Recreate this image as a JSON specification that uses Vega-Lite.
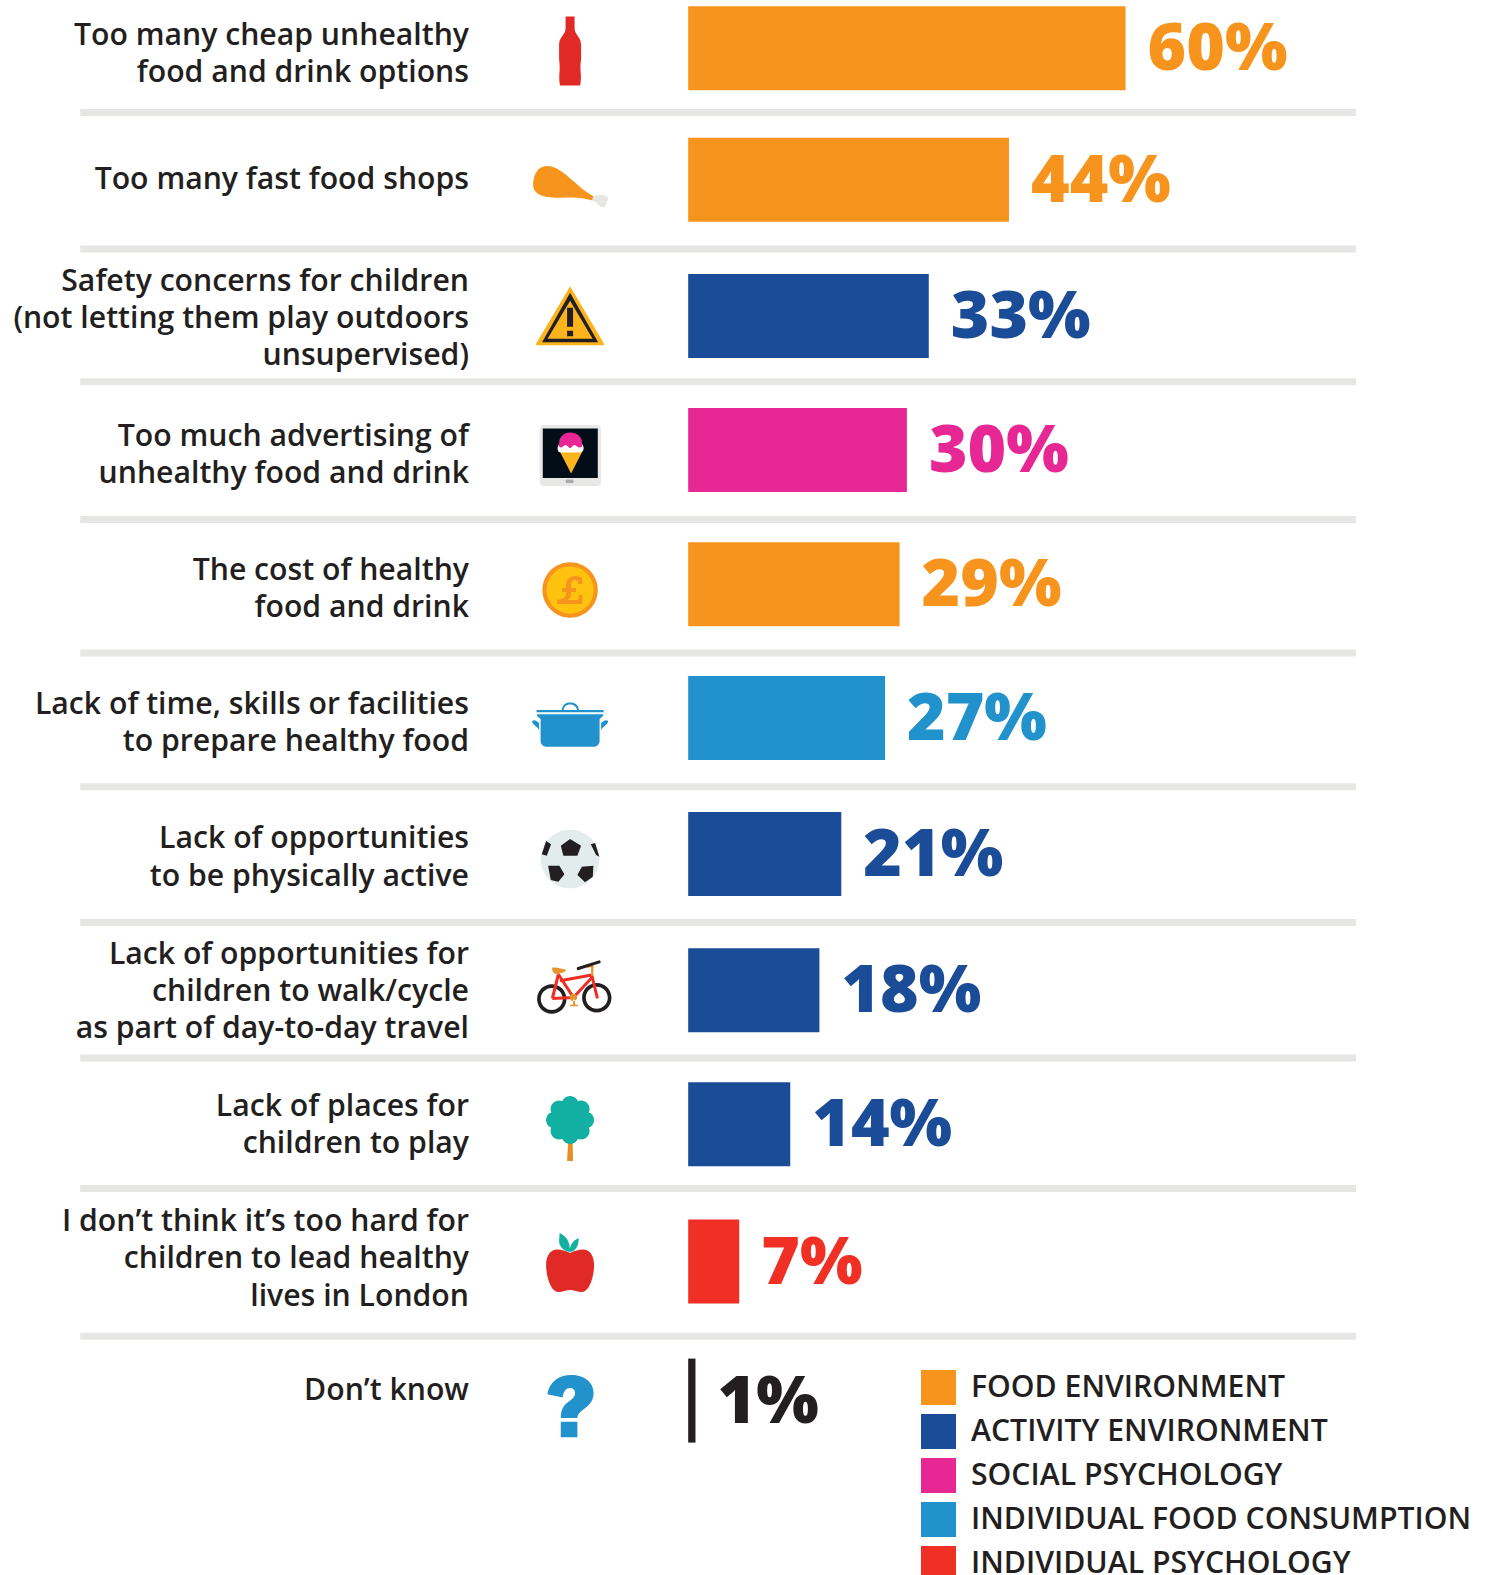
{
"$schema":"https://vega.github.io/schema/vega-lite/v6.json",
"width":1485,"height":1575,"padding":0,"autosize":{"type":"none"},"background":"white",
"config":{"view":{"stroke":null}},
"datasets":{
"rows":[
{"rank":1,"label":"Too many cheap unhealthy\nfood and drink options","value":60,"pct":"60%","category":"FOOD ENVIRONMENT"},
{"rank":2,"label":"Too many fast food shops","value":44,"pct":"44%","category":"FOOD ENVIRONMENT"},
{"rank":3,"label":"Safety concerns for children\n(not letting them play outdoors\nunsupervised)","value":33,"pct":"33%","category":"ACTIVITY ENVIRONMENT"},
{"rank":4,"label":"Too much advertising of\nunhealthy food and drink","value":30,"pct":"30%","category":"SOCIAL PSYCHOLOGY"},
{"rank":5,"label":"The cost of healthy\nfood and drink","value":29,"pct":"29%","category":"FOOD ENVIRONMENT"},
{"rank":6,"label":"Lack of time, skills or facilities\nto prepare healthy food","value":27,"pct":"27%","category":"INDIVIDUAL FOOD CONSUMPTION"},
{"rank":7,"label":"Lack of opportunities\nto be physically active","value":21,"pct":"21%","category":"ACTIVITY ENVIRONMENT"},
{"rank":8,"label":"Lack of opportunities for\nchildren to walk/cycle\nas part of day-to-day travel","value":18,"pct":"18%","category":"ACTIVITY ENVIRONMENT"},
{"rank":9,"label":"Lack of places for\nchildren to play","value":14,"pct":"14%","category":"ACTIVITY ENVIRONMENT"},
{"rank":10,"label":"I don’t think it’s too hard for\nchildren to lead healthy\nlives in London","value":7,"pct":"7%","category":"INDIVIDUAL PSYCHOLOGY"},
{"rank":11,"label":"Don’t know","value":1,"pct":"1%","category":"NONE"}
],
"icons":[
{"rank":1,"part":"bottle"},
{"rank":2,"part":"drum"},{"rank":2,"part":"bone"},
{"rank":3,"part":"warnOuter"},{"rank":3,"part":"warnDark"},{"rank":3,"part":"warnInner"},{"rank":3,"part":"warnMark"},
{"rank":4,"part":"tablet"},{"rank":4,"part":"screen"},{"rank":4,"part":"homeBtn"},{"rank":4,"part":"cone"},{"rank":4,"part":"scoop"},{"rank":4,"part":"icing"},
{"rank":5,"part":"coinOuter"},{"rank":5,"part":"coinInner"},{"rank":5,"part":"pound"},
{"rank":6,"part":"pot"},
{"rank":7,"part":"ball"},{"rank":7,"part":"patches"},
{"rank":8,"part":"wheels"},{"rank":8,"part":"wheelHoles"},{"rank":8,"part":"frame"},{"rank":8,"part":"bikeOrange"},{"rank":8,"part":"handlebar"},
{"rank":9,"part":"trunk"},{"rank":9,"part":"crown"},
{"rank":10,"part":"apple"},{"rank":10,"part":"leaves"},
{"rank":11,"part":"question"}
],
"seps":[{"after":1},{"after":2},{"after":3},{"after":4},{"after":5},{"after":6},{"after":7},{"after":8},{"after":9},{"after":10}]
},
"layer":[
{"data":{"name":"seps"},
 "mark":{"type":"rule","strokeWidth":7,"color":"#E6E7E5"},
 "encoding":{
  "x":{"datum":-83.4,"type":"quantitative","axis":null,"scale":{"domain":[-94.4,109.3],"nice":false,"zero":false}},
  "x2":{"datum":91.6},
  "y":{"field":"after","type":"quantitative","axis":null,"scale":{"domain":[1,2,3,4,5,6,7,8,9,10],"range":[112.5,249,381.8,519.5,653,786.7,922.4,1058,1188.6,1336.3],"nice":false,"zero":false}}
 }},
{"data":{"name":"rows"},
 "mark":{"type":"bar","orient":"horizontal","size":84},
 "encoding":{
  "x":{"field":"value","type":"quantitative","stack":null,"axis":null,"scale":{"domain":[-94.4,109.3],"nice":false,"zero":false}},
  "y":{"field":"rank","type":"quantitative","axis":null,"scale":{"domain":[1,2,3,4,5,6,7,8,9,10,11],"range":[48.2,179.8,316,450,584.3,717.9,854,990.2,1124.3,1261.5,1400.6],"nice":false,"zero":false,"padding":0}},
  "color":{"field":"category","type":"nominal",
   "scale":{"domain":["FOOD ENVIRONMENT","ACTIVITY ENVIRONMENT","SOCIAL PSYCHOLOGY","INDIVIDUAL FOOD CONSUMPTION","INDIVIDUAL PSYCHOLOGY","NONE"],"range":["#F7941E","#1B4C97","#E72794","#2292CC","#F03024","#231F20"]},
   "legend":{"orient":"none","legendX":921,"legendY":1370,"title":null,"values":["FOOD ENVIRONMENT","ACTIVITY ENVIRONMENT","SOCIAL PSYCHOLOGY","INDIVIDUAL FOOD CONSUMPTION","INDIVIDUAL PSYCHOLOGY"],
    "symbolType":"square","symbolSize":1225,"symbolStrokeWidth":0,"symbolOpacity":1,"rowPadding":9,"labelOffset":15,"padding":0,
    "labelFont":"Open Sans","labelFontWeight":600,"labelFontSize":30.2,"labelColor":"#231F20","labelLimit":600}}
 }},
{"data":{"name":"rows"},
 "mark":{"type":"text","align":"left","baseline":"middle","dx":22,"dy":2,"font":"Open Sans","fontWeight":800,"fontSize":66},
 "encoding":{
  "x":{"field":"value","type":"quantitative","stack":null,"axis":null,"scale":{"domain":[-94.4,109.3],"nice":false,"zero":false}},
  "y":{"field":"rank","type":"quantitative","axis":null,"scale":{"domain":[1,2,3,4,5,6,7,8,9,10,11],"range":[48.2,179.8,316,450,584.3,717.9,854,990.2,1124.3,1261.5,1400.6],"nice":false,"zero":false}},
  "text":{"field":"pct"},
  "color":{"field":"category","type":"nominal","legend":null,
   "scale":{"domain":["FOOD ENVIRONMENT","ACTIVITY ENVIRONMENT","SOCIAL PSYCHOLOGY","INDIVIDUAL FOOD CONSUMPTION","INDIVIDUAL PSYCHOLOGY","NONE"],"range":["#F7941E","#1B4C97","#E72794","#2292CC","#F03024","#231F20"]}}
 }},
{"data":{"name":"rows"},
 "mark":{"type":"text","align":"right","baseline":"middle","font":"Open Sans","fontWeight":600,"fontSize":30.2,"lineHeight":37.2,"lineBreak":"\n","color":"#231F20"},
 "encoding":{
  "x":{"datum":-30.07,"type":"quantitative","axis":null,"scale":{"domain":[-94.4,109.3],"nice":false,"zero":false}},
  "y":{"field":"rank","type":"quantitative","axis":null,"scale":{"domain":[1,2,3,4,5,6,7,8,9,10,11],"range":[35.7,180.3,281.8,436.5,571.2,704.8,839.4,955,1106.7,1222.2,1390.5],"nice":false,"zero":false}},
  "text":{"field":"label"}
 }},
{"data":{"name":"icons"},
 "mark":{"type":"point","filled":true,"opacity":1,"size":4},
 "encoding":{
  "x":{"datum":-16.2,"type":"quantitative","axis":null,"scale":{"domain":[-94.4,109.3],"nice":false,"zero":false}},
  "y":{"field":"rank","type":"quantitative","axis":null,"scale":{"domain":[1,2,3,4,5,6,7,8,9,10,11],"range":[51,187,315.7,455.6,590,725,859,991.7,1120,1263,1406],"nice":false,"zero":false}},
  "color":{"field":"part","type":"nominal","legend":null,"scale":{
   "domain":["bottle","drum","bone","warnOuter","warnDark","warnInner","warnMark","tablet","screen","homeBtn","cone","scoop","icing","coinOuter","coinInner","pound","pot","ball","patches","wheels","wheelHoles","frame","bikeOrange","handlebar","trunk","crown","apple","leaves","question"],
   "range":["#E12A26","#F7941E","#E6E7E4","#FDB31B","#231F20","#FDB31B","#231F20","#E8E9E6","#020D18","#A7A9AC","#FDB31B","#FFFFFF","#E72794","#F7941E","#FFC20E","#F7941E","#2292CC","#E3ECEC","#231F20","#231F20","#FFFFFF","#EE2E24","#E8932B","#231F20","#E58E26","#12B0A2","#E12A26","#12B0A2","#2292CC"]}},
  "shape":{"field":"part","type":"nominal","legend":null,"scale":{
   "domain":["bottle","drum","bone","warnOuter","warnDark","warnInner","warnMark","tablet","screen","homeBtn","cone","scoop","icing","coinOuter","coinInner","pound","pot","ball","patches","wheels","wheelHoles","frame","bikeOrange","handlebar","trunk","crown","apple","leaves","question"],
   "range":[
"M-4.5 -34.5H4.5V-22C5 -16 11 -14 11 -6V6C11 12 10 12 10.5 20C11 26 11 31 10 34.5H-10C-11 31 -11 26 -10.5 20C-10 12 -11 12 -11 6V-6C-11 -14 -5 -16 -4.5 -22Z",
"M-37 -2C-37 -14 -31 -21 -23 -21C-14 -21 -6 -14 2 -7C8 -2 15 5 23 9L22.5 13.5C14 11 6 10 -3 10.5C-14 11 -25 11 -32 7C-35 5 -37 2 -37 -2Z",
"M23 9L29 8C33 7 38 9 38 12C38 14 36 15 36 17C36 20 33 21 31 20C28 18 26 14 22.5 13.5Z",
"M0 -29.5L34 28Q34.5 29.5 33 29.5H-33Q-34.5 29.5 -34 28Z",
"M0 -23L28 26.5H-28Z",
"M0 -15L22.5 23H-22.5Z",
"M-3 -8H3V11H-3ZM-3 15H3V20.5H-3Z",
"M-26.5 -30.5H27C29 -30.5 31 -28.5 31 -26.5V26.5C31 28.5 29 30.5 27 30.5H-26.5C-28.5 30.5 -30.5 28.5 -30.5 26.5V-26.5C-30.5 -28.5 -28.5 -30.5 -26.5 -30.5Z",
"M-27.3 -27H27.7V22.3H-27.3Z",
"M-4 24H3Q4 25.7 3 27.3H-4Q-5 25.7 -4 24Z",
"M-10.5 -4.5H12.5L1 18Z",
"M-12.5 -7C-12.5 -11 -9 -13 -6 -13H7C11 -13 13.5 -11 13.5 -7C13.5 -4 11 -3 9 -3H-9C-11 -3 -12.5 -4 -12.5 -7Z",
"M-11 -12C-11 -19 -6 -23 0 -23C7 -23 12 -19 12 -12V-9Q9 -7 7 -9Q4 -12 2 -9Q0 -6 -2 -9Q-5 -12 -7 -9Q-9 -7 -11 -9Z",
"M-27.7 0a27.7 27.7 0 1 0 55.4 0a27.7 27.7 0 1 0 -55.4 0Z",
"M-23.5 0a23.5 23.5 0 1 0 47 0a23.5 23.5 0 1 0 -47 0Z",
"M-8 -2H-4V-5C-4 -11 0 -14 5 -14C8 -14 10 -13 12 -12V-6H8V-9C7 -10 6 -10 5 -10C2 -10 1 -8 1 -5V-2H6V2H1V4C1 6 0 8 -2 10H8L9 5H12.5L12 14H-13V10C-7 9 -4 7 -4 4V2H-8Z",
"M-8.5 -15C-7 -21 -4 -22.5 0 -22.5C4 -22.5 8 -21 9 -15H7C6 -19 3 -20.5 0 -20.5C-3 -20.5 -6 -19 -6.5 -15ZM-33.5 -15H33.5V-12.7H-33.5ZM-33 -10.7H33V-9L29.5 -6V16C29.5 19 27 21.7 24 21.7H-24C-27 21.7 -29.5 19 -29.5 16V-6L-33 -9ZM-38 -4C-36 -6 -33 -4 -31 -2V5C-33 1 -38 0 -38 -4ZM38 -4C38 0 33 1 31 5V-2C33 -4 36 -6 38 -4Z",
"M-29.3 0a29.3 29.3 0 1 0 58.6 0a29.3 29.3 0 1 0 -58.6 0Z",
"M0 -20L11 -13.3L7.3 -3.3H-6.7L-9.3 -13.3ZM-22 6.7H-10.7L-5.7 15.3L-11.7 22.7L-19.3 21ZM11.7 7.7L23.3 6.7L22.7 17.7L15 23.3L7.3 16ZM-28.3 -4.7L-24 -18L-19 -14.7L-23.3 -3.3ZM20.7 -14.7L25 -16L29.3 -2.3L26 -4Z",
"M-33 7.3a14.7 14.7 0 1 0 29.4 0a14.7 14.7 0 1 0 -29.4 0ZM12 6a14.7 14.7 0 1 0 29.4 0a14.7 14.7 0 1 0 -29.4 0Z",
"M-29.3 7.3a11 11 0 1 0 22 0a11 11 0 1 0 -22 0ZM15.7 6a11 11 0 1 0 22 0a11 11 0 1 0 -22 0Z",
"M-19.2 6.3L-13.2 -17.7L-10.2 -17L-16.2 7.1ZM-17.7 5.2L3.3 4.2V7.2L-17.7 8.2ZM-12.9 -16.5L-10.5 -18.1L4.5 4.9L2.1 6.5ZM-10.3 -12.5L21.4 -18.2L22 -15.2L-9.7 -9.5ZM2.2 4.7L20.6 -15L22.8 -13L4.4 6.7ZM20.25 -16.35L23.15 -17.05L28.75 6.35L25.85 7.05Z",
"M-18 -24C-14 -25 -10 -23 -4 -22C-4 -20 -8 -19 -11 -18C-15 -17 -18 -19 -18 -24ZM-0.4 5.7a3.7 3.7 0 1 0 7.4 0a3.7 3.7 0 1 0 -7.4 0ZM3 8H5V14H3ZM0 13H8V14.5H0ZM15 -25.5L23 -27V-25L17 -24ZM21 -26H23.5L23 -16H21Z",
"M7 -24.5L29.5 -31.5Q31 -31 30.5 -28.7L8 -21.5Q6 -22 7 -24.5Z",
"M-2 23H2.5L3 41H-3Z",
"M7 0a8.5 8.5 0 1 0 17 0a8.5 8.5 0 1 0 -17 0ZM2.5 11a8.5 8.5 0 1 0 17 0a8.5 8.5 0 1 0 -17 0ZM-8.5 15.5a8.5 8.5 0 1 0 17 0a8.5 8.5 0 1 0 -17 0ZM-19.5 11a8.5 8.5 0 1 0 17 0a8.5 8.5 0 1 0 -17 0ZM-24 0a8.5 8.5 0 1 0 17 0a8.5 8.5 0 1 0 -17 0ZM-19.5 -11a8.5 8.5 0 1 0 17 0a8.5 8.5 0 1 0 -17 0ZM-8.5 -15.5a8.5 8.5 0 1 0 17 0a8.5 8.5 0 1 0 -17 0ZM2.5 -11a8.5 8.5 0 1 0 17 0a8.5 8.5 0 1 0 -17 0ZM-16 0a16 16 0 1 0 32 0a16 16 0 1 0 -32 0Z",
"M0 -10C4 -12 9 -13.5 13 -13.5C20 -13.5 24 -7 24 2C24 14 19 29 12 29C7 29 4 27 0 27C-4 27 -7 29 -12 29C-19 29 -24 14 -24 2C-24 -7 -20 -13.5 -13 -13.5C-9 -13.5 -4 -12 0 -10Z",
"M-10.5 -30C-4 -27 0 -22 0 -11C-6 -12 -11 -16 -11 -22ZM8.5 -25C9 -18 6 -12 0 -11C-1 -17 3 -23 8.5 -25Z",
"M-22.7 -11.7C-21 -24 -11 -31 1 -31C14 -31 23.5 -24 23.5 -13C23.5 -5 19 -1 14 3C10 6 7.5 8 7.3 12H-9.3C-9.3 4 -7 0 -2 -4C2 -7 5 -9 5 -13C5 -16 3 -18 0 -18C-4 -18 -6.5 -15 -7.5 -8.5ZM-9.3 15.7H7.3V31.3H-9.3Z"
  ]}}
 }}
],
"resolve":{"scale":{"y":"independent","color":"independent"},"axis":{"y":"independent"}}
}
